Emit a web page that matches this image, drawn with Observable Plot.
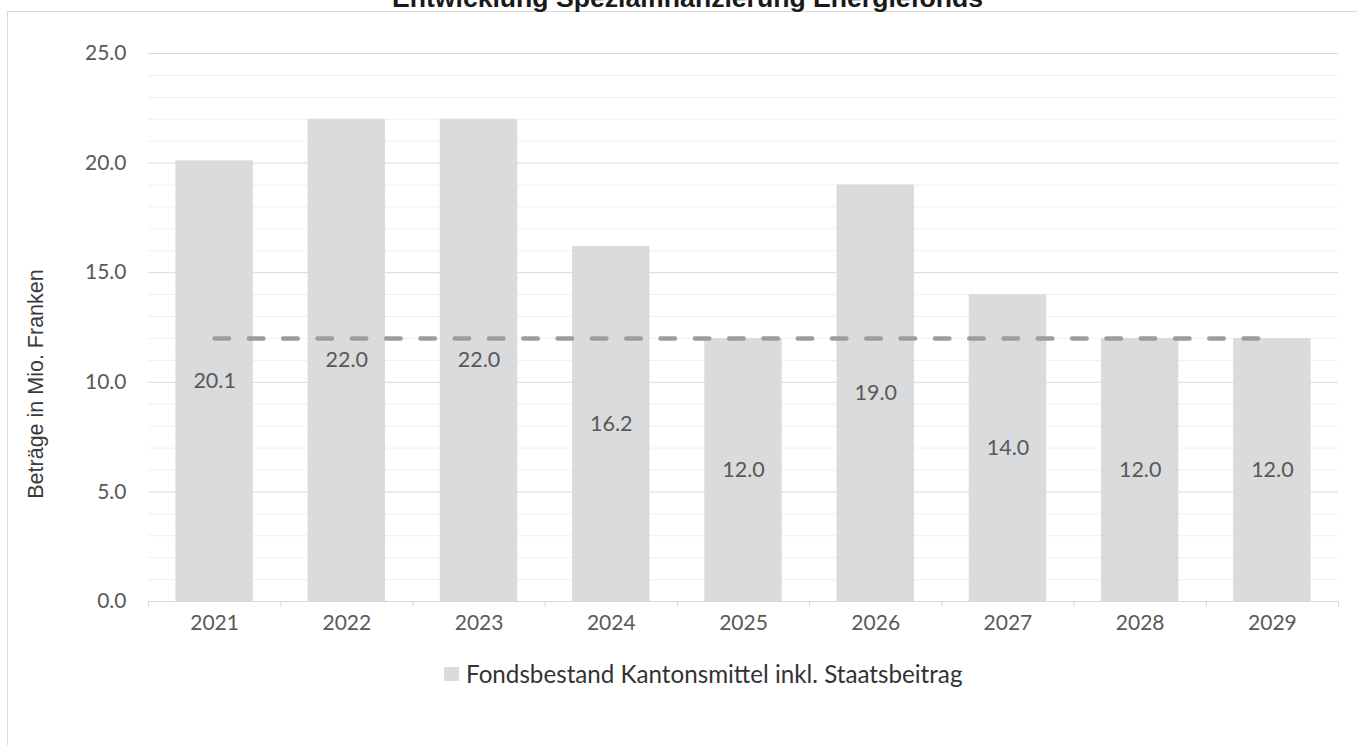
<!DOCTYPE html>
<html lang="de">
<head>
<meta charset="utf-8">
<title>Entwicklung Spezialfinanzierung Energiefonds</title>
<script src="https://cdn.jsdelivr.net/npm/d3@7"></script>
<script src="https://cdn.jsdelivr.net/npm/@observablehq/plot@0.6"></script>
<style>
  html, body { margin: 0; padding: 0; background: #fff; overflow: hidden; }
  #page { position: relative; width: 1357px; height: 745px; overflow: hidden; }
  #frame { position: absolute; left: 7px; top: 11px; width: 1400px; height: 800px;
           border: 1px solid #d9d9d9; box-sizing: border-box; }
  #title { position: absolute; left: 0; width: 1375px; top: -15.5px; text-align: center;
           font: bold 26.6px/26.6px "Liberation Sans", Arial, sans-serif; color: #1a1a1a; white-space: nowrap; }
  #chart { position: absolute; left: 0; top: 0; }
  #ytitle { position: absolute; left: 36px; top: 384px; transform: translate(-50%, -50%) rotate(-90deg);
            font: 21.5px/22px "Liberation Sans", Arial, sans-serif; color: #3a3a3a; white-space: nowrap; }
  #legend { position: absolute; left: 444px; top: 662px; display: flex; align-items: center;
            font: 24.2px/24px Lato, "Open Sans", sans-serif; color: #333; white-space: nowrap; }
  #legend .swatch { width: 15px; height: 14px; margin-right: 7px; }
</style>
</head>
<body>
<div id="page">
  <div id="frame"></div>
  <div id="title">Entwicklung Spezialfinanzierung Energiefonds</div>
  <div id="chart"></div>
  <div id="ytitle">Beträge in Mio. Franken</div>
  <div id="legend"><div class="swatch"></div><span>Fondsbestand Kantonsmittel inkl. Staatsbeitrag</span></div>
</div>
<script>
// Jahre und Werte (Mio. Franken)
const jahre = [2021, 2022, 2023, 2024, 2025, 2026, 2027, 2028, 2029];
const fondsbestand = [20.1, 22.0, 22.0, 16.2, 12.0, 19.0, 14.0, 12.0, 12.0];
const mindestbestand = [12.0, 12.0, 12.0, 12.0, 12.0, 12.0, 12.0, 12.0, 12.0];
const yTicks = [0, 5, 10, 15, 20, 25];
const yMinorTicks = d3.range(0, 26, 1);
const seriesName = "Fondsbestand Kantonsmittel inkl. Staatsbeitrag";

const barColor = "#dadbdd";
const gridMajor = "#d9d9d9";
const gridMinor = "#f0f0f0";
const labelColor = "#595959";

const data = jahre.map((jahr, i) => ({jahr, wert: fondsbestand[i], mindest: mindestbestand[i]}));
// category boundaries between the years, for the small axis ticks
const grenzen = d3.range(jahre.length + 1).map(i => jahre[0] - 0.5 + i);
const halfBar = 0.293;

const chart = Plot.plot({
  width: 1357,
  height: 650,
  marginTop: 53,
  marginBottom: 49,
  marginLeft: 148,
  marginRight: 19,
  style: {background: "transparent", fontFamily: "Lato, 'Open Sans', sans-serif"},
  x: {type: "linear", domain: [jahre[0] - 0.5, jahre[jahre.length - 1] + 0.5]},
  y: {domain: [0, 25]},
  marks: [
    Plot.ruleY(yMinorTicks.filter(d => d % 5 !== 0), {stroke: gridMinor, strokeWidth: 1}),
    Plot.ruleY(yTicks, {stroke: gridMajor, strokeWidth: 1}),
    Plot.rectY(data, {x1: d => d.jahr - halfBar, x2: d => d.jahr + halfBar, y: "wert", fill: barColor}),
    Plot.axisY({ticks: yTicks, tickSize: 0, tickPadding: 22, tickFormat: d3.format(".1f"),
                fontSize: 21, fill: labelColor, label: null}),
    Plot.axisX({ticks: grenzen, tickSize: 6, tickFormat: () => "", stroke: gridMajor, label: null}),
    Plot.axisX({ticks: jahre, tickSize: 0, tickPadding: 14, tickFormat: d => String(d),
                fontSize: 21, fill: labelColor, label: null}),
    Plot.text(data, {x: "jahr", y: d => d.wert / 2, text: d => d3.format(".1f")(d.wert),
                     fontSize: 21.5, fill: labelColor}),
    Plot.lineY(data, {x: "jahr", y: "mindest", stroke: "#9d9d9d", strokeWidth: 4.5,
                      strokeDasharray: "14.5,19.8", strokeLinecap: "round"})
  ]
});

document.getElementById("chart").append(chart);
document.querySelector("#legend .swatch").style.background = barColor;
document.querySelector("#legend span").textContent = seriesName;
</script>
</body>
</html>
